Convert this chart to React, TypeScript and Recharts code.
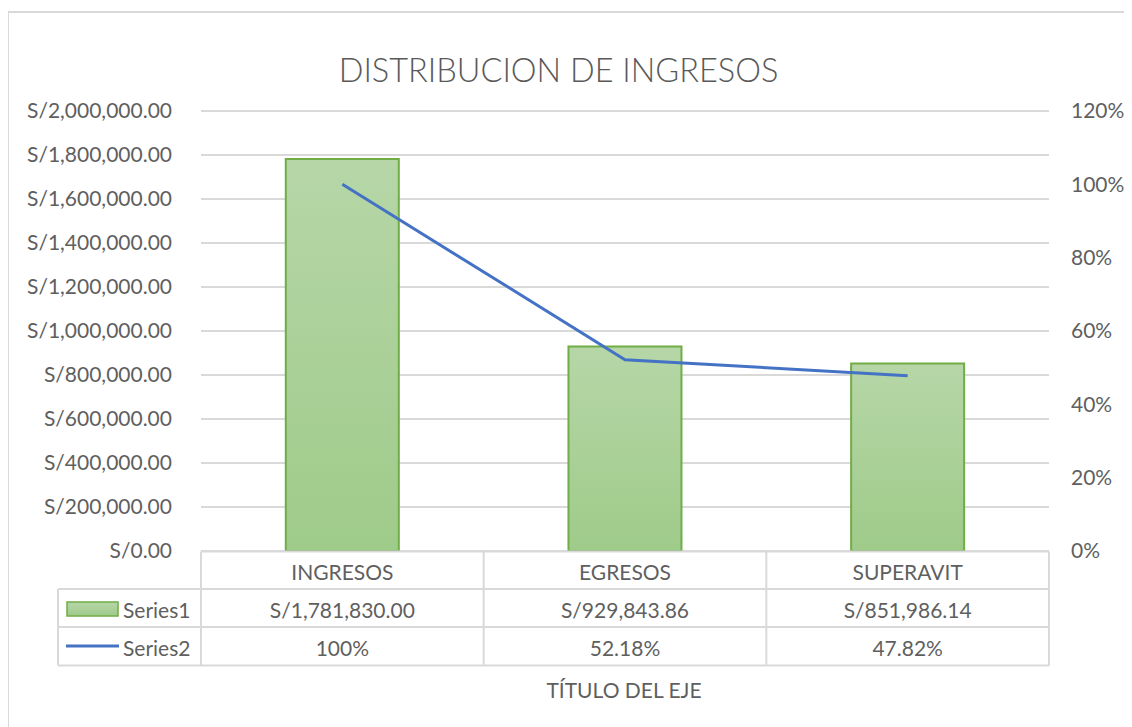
import React from "react";
import { ComposedChart, Bar, Line, XAxis, YAxis, CartesianGrid } from "recharts";

const categories = ["INGRESOS", "EGRESOS", "SUPERAVIT"];
const series1 = [1781830.0, 929843.86, 851986.14];
const series2 = [1, 0.5218, 0.4782];
const leftTicks = [0, 200000, 400000, 600000, 800000, 1000000, 1200000, 1400000, 1600000, 1800000, 2000000];
const rightTicks = [0, 0.2, 0.4, 0.6, 0.8, 1.0, 1.2];
const seriesNames = ["Series1", "Series2"];
const chartTitle = "DISTRIBUCION DE INGRESOS";
const axisTitle = "TÍTULO DEL EJE";

const data = categories.map((c, i) => ({ name: c, s1: series1[i], s2: series2[i] }));

const W = 1124;
const H = 719;
const PLOT_LEFT = 193;
const PLOT_RIGHT = 1041;
const BAND = (PLOT_RIGHT - PLOT_LEFT) / categories.length;
const FONT = "Lato, 'Open Sans', sans-serif";
const TXT = "#5f5f5f";
const GRID = "#d9d9d9";
const GREEN = "#70ad47";
const BLUE = "#4472c4";

const money = (v: number) =>
  "S/" + v.toLocaleString("en-US", { minimumFractionDigits: 2, maximumFractionDigits: 2 });
const pct = (v: number) => {
  const p = Math.round(v * 10000) / 100;
  return Number.isInteger(p) ? `${p}%` : `${p.toFixed(2)}%`;
};

function TableTick(props: any) {
  const { x, y, payload } = props;
  const i: number = payload?.index ?? props.index ?? 0;
  const left = x - BAND / 2;
  const right = x + BAND / 2;
  const r0 = y + 0.5;
  const r1 = y + 38;
  const r2 = y + 76;
  const r3 = y + 114.5;
  const ts = { fill: TXT, fontSize: 21, fontFamily: FONT } as const;
  const last = i === categories.length - 1;
  return (
    <g>
      <line x1={left} x2={right} y1={r0} y2={r0} stroke={GRID} strokeWidth={2} />
      <line x1={left} x2={right} y1={r1} y2={r1} stroke={GRID} strokeWidth={2} />
      <line x1={left} x2={right} y1={r2} y2={r2} stroke={GRID} strokeWidth={2} />
      <line x1={left} x2={right} y1={r3} y2={r3} stroke={GRID} strokeWidth={2} />
      <line x1={left} x2={left} y1={r0} y2={r3} stroke={GRID} strokeWidth={2} />
      {last && <line x1={right} x2={right} y1={r0} y2={r3} stroke={GRID} strokeWidth={2} />}
      <text x={x} y={y + 20} textAnchor="middle" dominantBaseline="central" {...ts}>
        {categories[i]}
      </text>
      <text x={x} y={y + 58} textAnchor="middle" dominantBaseline="central" {...ts}>
        {money(series1[i])}
      </text>
      <text x={x} y={y + 96} textAnchor="middle" dominantBaseline="central" {...ts}>
        {pct(series2[i])}
      </text>
      {i === 0 && (
        <g>
          <line x1={left - 143} x2={left} y1={r1} y2={r1} stroke={GRID} strokeWidth={2} />
          <line x1={left - 143} x2={left} y1={r2} y2={r2} stroke={GRID} strokeWidth={2} />
          <line x1={left - 143} x2={left} y1={r3} y2={r3} stroke={GRID} strokeWidth={2} />
          <line x1={left - 143} x2={left - 143} y1={r1} y2={r3} stroke={GRID} strokeWidth={2} />
          <rect x={left - 134} y={y + 51} width={51} height={14} fill="url(#barGrad)" stroke={GREEN} strokeWidth={1.5} />
          <text x={left - 78} y={y + 58} textAnchor="start" dominantBaseline="central" {...ts}>
            {seriesNames[0]}
          </text>
          <line x1={left - 135} x2={left - 82} y1={y + 95} y2={y + 95} stroke={BLUE} strokeWidth={3} />
          <text x={left - 78} y={y + 96} textAnchor="start" dominantBaseline="central" {...ts}>
            {seriesNames[1]}
          </text>
        </g>
      )}
      {i === 1 && (
        <text x={x - 1} y={y + 138} textAnchor="middle" dominantBaseline="central" {...ts}>
          {axisTitle}
        </text>
      )}
    </g>
  );
}

export default function App() {
  return (
    <div style={{ position: "relative", width: W, height: H, overflow: "hidden", fontFamily: FONT }}>
      <div
        style={{
          position: "absolute",
          left: -1,
          top: 3,
          width: 1300,
          height: 900,
          border: `2px solid ${GRID}`,
          boxSizing: "border-box",
        }}
      />
      <div
        style={{
          position: "absolute",
          left: 550.5 - 300,
          width: 600,
          top: 42,
          textAlign: "center",
          fontSize: 32.5,
          fontWeight: 300,
          color: "#595959",
          fontFamily: FONT,
          lineHeight: "40px",
          whiteSpace: "nowrap",
        }}
      >
        {chartTitle}
      </div>
      <ComposedChart
        width={W}
        height={H}
        data={data}
        margin={{ top: 103, right: 0, bottom: 0, left: 0 }}
        barCategoryGap="30%"
        style={{ position: "absolute", left: 0, top: 0 }}
      >
        <defs>
          <linearGradient id="barGrad" x1="0" y1="0" x2="0" y2="1">
            <stop offset="0%" stopColor="#b6d6a7" />
            <stop offset="100%" stopColor="#9fcb8a" />
          </linearGradient>
        </defs>
        <CartesianGrid yAxisId="left" vertical={false} stroke={GRID} strokeWidth={2} />
        <XAxis
          dataKey="name"
          height={176}
          axisLine={false}
          tickLine={false}
          tickSize={0}
          tickMargin={0}
          interval={0}
          tick={<TableTick />}
        />
        <YAxis
          yAxisId="left"
          orientation="left"
          width={193}
          domain={[0, 2000000]}
          ticks={leftTicks}
          axisLine={false}
          tickLine={false}
          tickSize={0}
          tickMargin={29}
          tickFormatter={money}
          tick={{ fill: TXT, fontSize: 21, fontFamily: FONT }}
        />
        <YAxis
          yAxisId="right"
          orientation="right"
          width={83}
          domain={[0, 1.2]}
          ticks={rightTicks}
          axisLine={false}
          tickLine={false}
          tickSize={0}
          tickMargin={22}
          tickFormatter={(v: number) => `${Math.round(v * 100)}%`}
          tick={{ fill: TXT, fontSize: 21, fontFamily: FONT, textAnchor: "start" }}
        />
        <Bar
          yAxisId="left"
          dataKey="s1"
          name={seriesNames[0]}
          fill="url(#barGrad)"
          stroke={GREEN}
          strokeWidth={2}
          isAnimationActive={false}
        />
        <Line
          yAxisId="right"
          dataKey="s2"
          name={seriesNames[1]}
          type="linear"
          stroke={BLUE}
          strokeWidth={3}
          dot={false}
          activeDot={false}
          isAnimationActive={false}
        />
      </ComposedChart>
    </div>
  );
}
